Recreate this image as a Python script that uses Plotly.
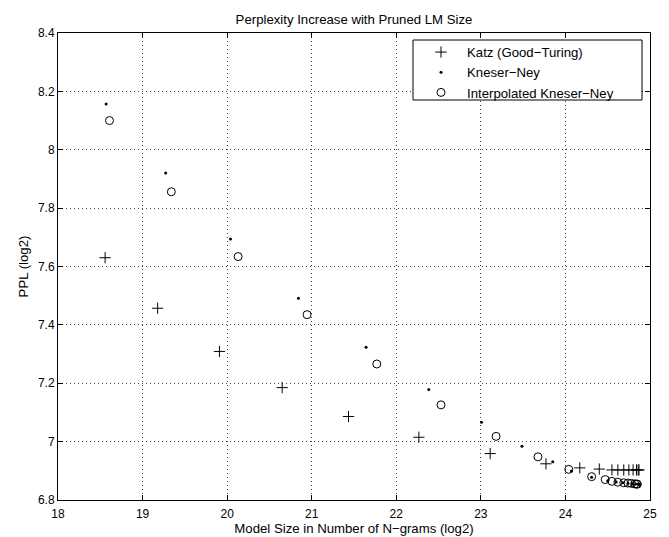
import plotly.graph_objects as go

# Katz (Good-Turing)
katz_x = [18.557, 19.178, 19.909, 20.651, 21.435, 22.267, 23.11, 23.77, 24.17, 24.40,
          24.55, 24.62, 24.69, 24.75, 24.80, 24.84, 24.86, 24.87]
katz_y = [7.630, 7.457, 7.309, 7.185, 7.086, 7.015, 6.959, 6.924, 6.910, 6.906,
          6.903, 6.903, 6.903, 6.903, 6.903, 6.903, 6.903, 6.903]

# Kneser-Ney
kn_x = [18.569, 19.273, 20.04, 20.843, 21.643, 22.384, 23.008, 23.486, 23.85, 24.07,
        24.31, 24.50, 24.60, 24.68, 24.74, 24.79, 24.83, 24.86, 24.88]
kn_y = [8.157, 7.920, 7.694, 7.491, 7.323, 7.179, 7.066, 6.984, 6.931, 6.899,
        6.878, 6.866, 6.862, 6.859, 6.857, 6.856, 6.855, 6.854, 6.853]

# Interpolated Kneser-Ney
ikn_x = [18.609, 19.34, 20.13, 20.945, 21.769, 22.529, 23.18, 23.675, 24.04, 24.31,
         24.47, 24.55, 24.62, 24.69, 24.74, 24.78, 24.82, 24.84, 24.85]
ikn_y = [8.100, 7.856, 7.634, 7.435, 7.266, 7.126, 7.018, 6.948, 6.905, 6.880,
         6.870, 6.864, 6.861, 6.859, 6.858, 6.857, 6.855, 6.855, 6.854]

x_ticks = [18, 19, 20, 21, 22, 23, 24, 25]
x_tick_labels = ["18", "19", "20", "21", "22", "23", "24", "25"]
y_ticks = [6.8, 7.0, 7.2, 7.4, 7.6, 7.8, 8.0, 8.2, 8.4]
y_tick_labels = ["6.8", "7", "7.2", "7.4", "7.6", "7.8", "8", "8.2", "8.4"]

font = "Liberation Sans, Arial, Helvetica, sans-serif"
TICK_SIZE = 12
LABEL_SIZE = 13.2

fig = go.Figure()
fig.add_trace(go.Scatter(
    x=katz_x, y=katz_y, mode="markers", name="Katz (Good−Turing)",
    marker=dict(symbol="cross-thin", size=8, color="black",
                line=dict(color="black", width=1))))
fig.add_trace(go.Scatter(
    x=kn_x, y=kn_y, mode="markers", name="Kneser−Ney",
    marker=dict(symbol="circle", size=3, color="black",
                line=dict(width=0))))
fig.add_trace(go.Scatter(
    x=ikn_x, y=ikn_y, mode="markers", name="Interpolated Kneser−Ney",
    marker=dict(symbol="circle-open", size=8, color="black",
                line=dict(color="black", width=1))))

axis_common = dict(
    showline=True, linecolor="black", linewidth=1, mirror="allticks",
    ticks="inside", ticklen=5, tickcolor="black", tickwidth=1,
    showgrid=True, gridcolor="#444444", gridwidth=1, griddash="1px,3px",
    zeroline=False, automargin=False,
    tickfont=dict(family=font, size=TICK_SIZE, color="black"),
)

fig.update_xaxes(range=[18, 25], tickvals=x_ticks, ticktext=x_tick_labels,
                 ticklabelstandoff=3,
                 title=dict(text="Model Size in Number of N−grams (log2)",
                            font=dict(family=font, size=LABEL_SIZE, color="black"),
                            standoff=3),
                 **axis_common)
fig.update_yaxes(range=[6.8, 8.4], tickvals=y_ticks, ticktext=y_tick_labels,
                 title=dict(text="PPL (log2)",
                            font=dict(family=font, size=LABEL_SIZE, color="black"),
                            standoff=6),
                 **axis_common)

# legend frame (px -> paper coordinates)
L, R, T, B = 58, 650, 33, 500
def px_x(p):
    return (p - L) / (R - L)
def px_y(p):
    return (B - p) / (B - T)

fig.add_shape(type="rect", xref="paper", yref="paper",
              x0=px_x(413), x1=px_x(642), y0=px_y(100), y1=px_y(40),
              line=dict(color="black", width=1), fillcolor="white", layer="above")

fig.update_layout(
    width=669, height=537,
    margin=dict(l=L, r=669 - R, t=T, b=537 - B, pad=0, autoexpand=False),
    paper_bgcolor="white", plot_bgcolor="white",
    title=dict(text="Perplexity Increase with Pruned LM Size",
               font=dict(family=font, size=LABEL_SIZE, color="black"),
               x=(L + R) / 2 / 669, xanchor="center", y=1 - 19 / 537, yanchor="middle"),
    showlegend=True,
    legend=dict(x=px_x(415), y=px_y(37), xanchor="left", yanchor="top",
                bgcolor="rgba(0,0,0,0)", borderwidth=0,
                font=dict(family=font, size=LABEL_SIZE, color="black"),
                tracegroupgap=0, itemwidth=42),
    font=dict(family=font, color="black"),
)

fig.write_html("out.html")
